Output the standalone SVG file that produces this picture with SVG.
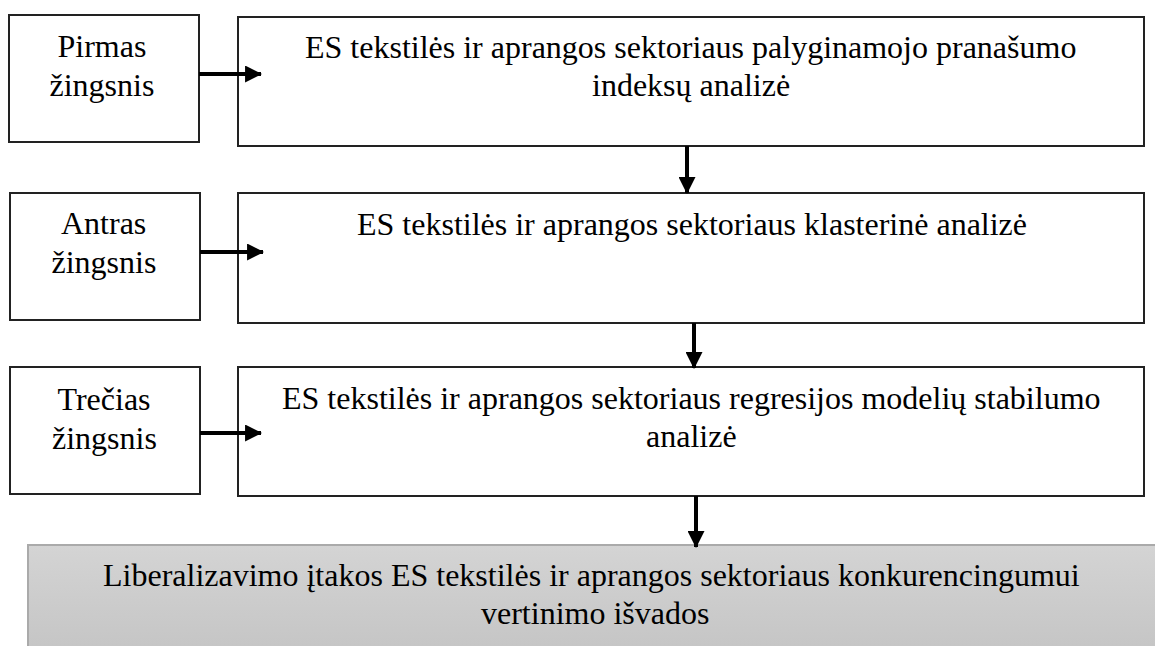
<svg xmlns="http://www.w3.org/2000/svg" width="1155" height="646" viewBox="0 0 1155 646">
<defs>
<linearGradient id="g" x1="0" y1="0" x2="0" y2="1"><stop offset="0" stop-color="#d4d4d4"/><stop offset="1" stop-color="#c3c3c3"/></linearGradient>
<marker id="a" viewBox="0 0 16 16" refX="15" refY="8" markerWidth="17" markerHeight="17" markerUnits="userSpaceOnUse" orient="auto"><path d="M0,0 L16,8 L0,16 z" fill="#000"/></marker>
</defs>
<rect width="1155" height="646" fill="#fff"/>
<g id="step1"><rect x="9" y="15" width="190" height="127" fill="#fff" stroke="#222" stroke-width="2"/><text x="57.5" y="57" font-family="Liberation Serif" font-size="32">Pirmas</text><text x="49.5" y="96" font-family="Liberation Serif" font-size="32">žingsnis</text></g>
<g id="task1"><rect x="238" y="17" width="906" height="129" fill="#fff" stroke="#222" stroke-width="2"/><text x="305" y="58" font-family="Liberation Serif" font-size="32">ES tekstilės ir aprangos sektoriaus palyginamojo pranašumo</text><text x="592" y="96" font-family="Liberation Serif" font-size="32">indeksų analizė</text></g>
<g id="step2"><rect x="10" y="193" width="190" height="127" fill="#fff" stroke="#222" stroke-width="2"/><text x="61" y="234" font-family="Liberation Serif" font-size="32">Antras</text><text x="51.5" y="273" font-family="Liberation Serif" font-size="32">žingsnis</text></g>
<g id="task2"><rect x="238" y="193" width="906" height="130" fill="#fff" stroke="#222" stroke-width="2"/><text x="357" y="235" font-family="Liberation Serif" font-size="32">ES tekstilės ir aprangos sektoriaus klasterinė analizė</text></g>
<g id="step3"><rect x="10" y="367" width="190" height="127" fill="#fff" stroke="#222" stroke-width="2"/><text x="57.5" y="410" font-family="Liberation Serif" font-size="32">Trečias</text><text x="52" y="449" font-family="Liberation Serif" font-size="32">žingsnis</text></g>
<g id="task3"><rect x="238" y="367" width="906" height="129" fill="#fff" stroke="#222" stroke-width="2"/><text x="282" y="409" font-family="Liberation Serif" font-size="32">ES tekstilės ir aprangos sektoriaus regresijos modelių stabilumo</text><text x="646" y="447" font-family="Liberation Serif" font-size="32">analizė</text></g>
<g id="result"><rect x="28" y="545" width="1140" height="120" fill="url(#g)" stroke="#aaa" stroke-width="2"/><text x="103" y="586" font-family="Liberation Serif" font-size="32">Liberalizavimo įtakos ES tekstilės ir aprangos sektoriaus konkurencingumui</text><text x="481" y="624" font-family="Liberation Serif" font-size="32">vertinimo išvados</text></g>
<g id="connectors" stroke="#000" stroke-width="4" fill="none">
<line x1="199" y1="74" x2="261" y2="74" marker-end="url(#a)"/>
<line x1="200" y1="252" x2="263" y2="252" marker-end="url(#a)"/>
<line x1="200" y1="433" x2="261" y2="433" marker-end="url(#a)"/>
<line x1="687" y1="146" x2="687" y2="193" marker-end="url(#a)"/>
<line x1="694" y1="323" x2="694" y2="368" marker-end="url(#a)"/>
<line x1="696" y1="496" x2="696" y2="547" marker-end="url(#a)"/>
</g>
</svg>
